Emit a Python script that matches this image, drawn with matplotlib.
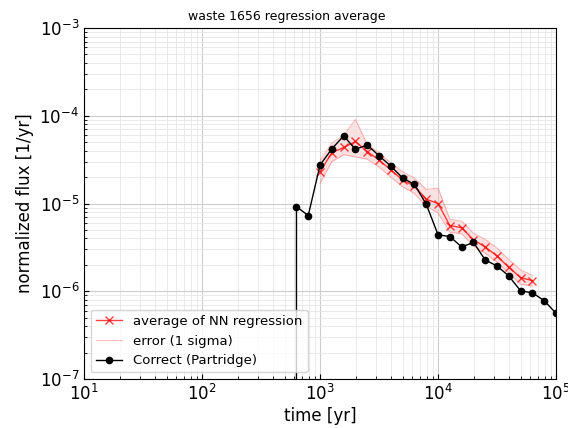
import numpy as np
import matplotlib
matplotlib.use('Agg')
import matplotlib.pyplot as plt

# valores (tempo em anos, fluxo normalizado em 1/yr)
t_correct = [501, 631, 794, 1000, 1259, 1585, 1995, 2512, 3162, 3981, 5012, 6310, 7943,
             10000, 12589, 15849, 19953, 25119, 31623, 39811, 50119, 63096, 79433, 100000]
flux_correct = [0, 9.2e-6, 7.3e-6, 2.75e-5, 4.2e-5, 5.9e-5, 4.15e-5, 4.65e-5, 3.5e-5, 2.67e-5,
                1.95e-5, 1.65e-5, 9.8e-6, 4.4e-6, 4.2e-6, 3.2e-6, 3.6e-6, 2.27e-6, 1.94e-6,
                1.49e-6, 1.01e-6, 9.6e-7, 7.8e-7, 5.6e-7]

t_nn = [1000, 1259, 1585, 1995, 2512, 3162, 3981, 5012, 6310, 7943,
        10000, 12589, 15849, 19953, 25119, 31623, 39811, 50119, 63096]
flux_nn = [2.3e-5, 3.8e-5, 4.35e-5, 5.1e-5, 3.9e-5, 3.13e-5, 2.41e-5, 1.85e-5, 1.58e-5, 1.12e-5,
           1.0e-5, 5.6e-6, 5.3e-6, 3.85e-6, 3.2e-6, 2.52e-6, 1.87e-6, 1.43e-6, 1.32e-6]
flux_nn_low = [1.7e-5, 3.0e-5, 3.6e-5, 3.4e-5, 3.2e-5, 2.6e-5, 2.0e-5, 1.55e-5, 1.3e-5, 9.3e-6,
               7.8e-6, 4.7e-6, 4.5e-6, 3.3e-6, 2.7e-6, 2.15e-6, 1.6e-6, 1.2e-6, 1.15e-6]
flux_nn_high = [3.1e-5, 4.9e-5, 6.0e-5, 9.1e-5, 4.7e-5, 3.8e-5, 2.9e-5, 2.3e-5, 1.95e-5, 1.45e-5,
                1.5e-5, 6.6e-6, 6.3e-6, 4.6e-6, 3.9e-6, 3.1e-6, 2.3e-6, 1.75e-6, 1.52e-6]

fig = plt.figure(figsize=(5.68, 4.28), dpi=100)
ax = fig.add_axes([0.148, 0.1145, 0.831, 0.82])

ax.plot(t_nn, flux_nn, color='red', marker='x', markersize=6, linewidth=1, alpha=0.75,
        label='average of NN regression')
ax.plot(t_nn, flux_nn_low, color='red', linewidth=0.8, alpha=0.25, label='error (1 sigma)')
ax.plot(t_nn, flux_nn_high, color='red', linewidth=0.8, alpha=0.25)
ax.fill_between(t_nn, flux_nn_low, flux_nn_high, color='red', alpha=0.12, linewidth=0)
ax.plot(t_correct, flux_correct, color='black', marker='o', markersize=4.5, linewidth=1,
        label='Correct (Partridge)')

ax.set_xscale('log')
ax.set_yscale('log')
ax.set_xlim(10, 1e5)
ax.set_ylim(1e-7, 1e-3)
ax.grid(True, which='major', color='#cccccc', linewidth=0.8)
ax.grid(True, which='minor', color='#e6e6e6', linewidth=0.6)
ax.tick_params(which='both', direction='in', labelsize=12)

ax.set_title('waste 1656 regression average', fontsize=9, x=0.43)
ax.set_xlabel('time [yr]', fontsize=12, labelpad=2)
ax.set_ylabel('normalized flux [1/yr]', fontsize=12)
ax.legend(loc='lower left', fontsize=9.5)

fig.savefig('out.png', dpi=100)
